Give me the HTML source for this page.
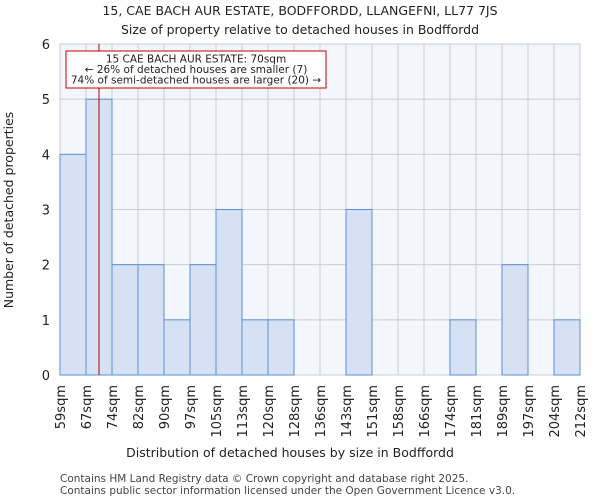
<!DOCTYPE html>
<html><head><meta charset="utf-8"><style>
body{margin:0;background:#fff;font-family:"DejaVu Sans","Liberation Sans",sans-serif}
</style></head><body>
<svg id="c" width="600" height="500" xmlns="http://www.w3.org/2000/svg" font-family="DejaVu Sans, Liberation Sans, sans-serif">
<text x="300" y="15" text-anchor="middle" font-size="12.5" fill="#222">15, CAE BACH AUR ESTATE, BODFFORDD, LLANGEFNI, LL77 7JS</text>
<text x="300" y="34" text-anchor="middle" font-size="12.5" fill="#222">Size of property relative to detached houses in Bodffordd</text>
<rect x="60" y="44" width="520" height="331" fill="#f3f6fd"/>
<g id="grid"></g><g id="bars"></g><g id="axes"></g>
<text x="290" y="457" text-anchor="middle" font-size="12.5" fill="#222">Distribution of detached houses by size in Bodffordd</text>
<text transform="translate(13,210) rotate(-90)" text-anchor="middle" font-size="12.5" fill="#222">Number of detached properties</text>
<text x="60" y="482" font-size="10.5" fill="#444">Contains HM Land Registry data © Crown copyright and database right 2025.</text>
<text x="60" y="494" font-size="10.5" fill="#444">Contains public sector information licensed under the Open Government Licence v3.0.</text>
</svg>
<script>
const edges=[59.0,66.5,73.5,81.5,89.5,97.0,104.5,112.5,120.0,127.5,135.5,143.0,150.5,158.0,166.0,173.5,181.0,188.5,196.5,204.0,211.5];
const tickLabels=["59sqm","67sqm","74sqm","82sqm","90sqm","97sqm","105sqm","113sqm","120sqm","128sqm","136sqm","143sqm","151sqm","158sqm","166sqm","174sqm","181sqm","189sqm","197sqm","204sqm","212sqm"];
const counts=[4,5,2,2,1,2,3,1,1,0,0,3,0,0,0,1,0,2,0,1];
const yTicks=[0,1,2,3,4,5,6];
const subjectSize=70;
const annotationLines=["15 CAE BACH AUR ESTATE: 70sqm","← 26% of detached houses are smaller (7)","74% of semi-detached houses are larger (20) →"];
const NS="http://www.w3.org/2000/svg";
const L=60,R=580,T=44,B=375,yMax=6;
const bw=(R-L)/counts.length;
const xi=i=>L+i*bw;
function xv(v){for(let i=0;i<edges.length-1;i++){if(v<=edges[i+1])return xi(i)+(v-edges[i])/(edges[i+1]-edges[i])*bw;}return R;}
const y=v=>B-(v/yMax)*(B-T);
function mk(tag,attrs,parent){const e=document.createElementNS(NS,tag);for(const k in attrs)e.setAttribute(k,attrs[k]);document.getElementById(parent).appendChild(e);return e;}
yTicks.forEach(t=>{
 const g=mk('line',{x1:L,x2:R,y1:y(t),y2:y(t),stroke:'#cccccc','stroke-width':1},'grid');
 
 
 const tx=mk('text',{x:50,y:y(t)+5,'text-anchor':'end','font-size':13,fill:'#222'},'axes');
 tx.textContent=t;
 
 
});
tickLabels.forEach((lab,i)=>{
 const g=mk('line',{x1:xi(i),x2:xi(i),y1:T,y2:B,stroke:'#cccccc','stroke-width':1},'grid');
 
 
 const tx=mk('text',{transform:`translate(${xi(i)+5},385) rotate(-90)`,'text-anchor':'end','font-size':13,fill:'#222'},'axes');
 tx.textContent=lab;
 
 
});
counts.forEach((c,i)=>{
 if(c<=0)return;
 const r=mk('rect',{x:xi(i),y:y(c),width:bw,height:B-y(c),fill:'#d6e1f3',stroke:'#5a8fd8','stroke-width':1},'bars');
 
 
});
const ml=mk('line',{x1:xv(subjectSize),x2:xv(subjectSize),y1:T,y2:B,stroke:'#b00000','stroke-width':1},'axes');


const box=mk('rect',{x:66,y:51,width:260,height:37,fill:'#fff',stroke:'#c00000','stroke-width':1},'axes');


annotationLines.forEach((s,i)=>{
 const t=mk('text',{x:196,y:62.5+i*10.5,'text-anchor':'middle','font-size':10.5,fill:'#222'},'axes');
 t.textContent=s;
 
 
});
</script>
</body></html>
